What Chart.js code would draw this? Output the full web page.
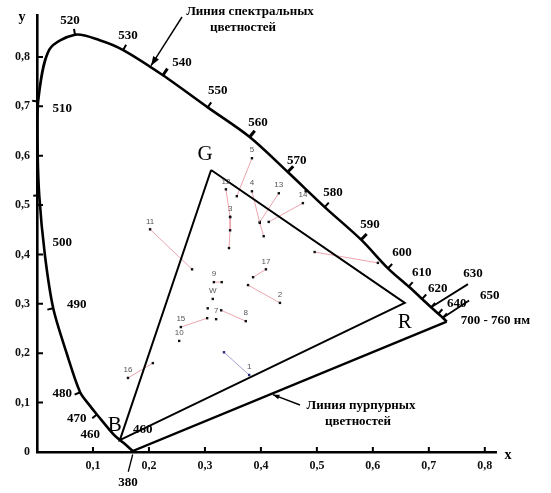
<!DOCTYPE html>
<html>
<head>
<meta charset="utf-8">
<script src="https://cdn.jsdelivr.net/npm/chart.js@4.4.0/dist/chart.umd.min.js"></script>
<style>
  html, body { margin: 0; padding: 0; background: #fff; }
  #wrap { width: 551px; height: 493px; }
</style>
</head>
<body>
<div id="wrap"><canvas id="cie" width="551" height="493"></canvas></div>
<script>
// spectral locus
const waveLengths = [380, 450, 460, 470, 475, 480, 485, 490, 495, 500, 505, 510, 515, 520, 525, 530, 540, 550, 560, 570, 580, 590, 600, 610, 620, 630, 640, 650, 700];
const locusX = [0.171, 0.155, 0.138, 0.107, 0.093, 0.077, 0.053, 0.029, 0.014, 0.004, 0.001, 0.002, 0.022, 0.068, 0.112, 0.154, 0.225, 0.305, 0.380, 0.448, 0.514, 0.579, 0.627, 0.664, 0.688, 0.704, 0.717, 0.725, 0.732];
const locusY = [0.002, 0.018, 0.034, 0.076, 0.096, 0.121, 0.200, 0.291, 0.400, 0.520, 0.620, 0.710, 0.815, 0.845, 0.834, 0.814, 0.763, 0.698, 0.638, 0.567, 0.496, 0.430, 0.372, 0.335, 0.310, 0.293, 0.280, 0.272, 0.264];

// primaries of the triangle
const primaryNames = ["G", "R", "B"];
const primaryX = [0.311, 0.657, 0.148];
const primaryY = [0.571, 0.302, 0.024];

// measured samples (first point of each path carries the number)
const sampleNames = ["1", "2", "3", "4", "5", "7", "8", "9", "10", "11", "12", "13", "14", "15", "16", "17", "W", "", "", ""];
const sampleX = [
  [0.379, 0.334], [0.434, 0.377], [0.345], [0.384, 0.398, 0.405], [0.384, 0.357],
  [0.320], [0.373, 0.329], [0.316, 0.330], [0.254], [0.202, 0.277],
  [0.3375, 0.345, 0.345, 0.343], [0.432, 0.398], [0.475, 0.414], [0.257, 0.304], [0.1625, 0.207],
  [0.409, 0.386], [0.314], [0.305], [0.480], [0.496, 0.609]
];
const sampleY = [
  [0.156, 0.202], [0.302, 0.338], [0.476], [0.528, 0.464, 0.437], [0.595, 0.518],
  [0.269], [0.265, 0.287], [0.344, 0.344], [0.225], [0.451, 0.370],
  [0.532, 0.476, 0.449, 0.413], [0.524, 0.466], [0.504, 0.466], [0.253, 0.271], [0.150, 0.180],
  [0.370, 0.354], [0.310], [0.291], [0.528], [0.405, 0.383]
];

const axisTicks = [0.1, 0.2, 0.3, 0.4, 0.5, 0.6, 0.7, 0.8];

// wavelength captions
const waveLabels = ["520", "530", "540", "550", "560", "570", "580", "590", "600", "610", "620", "630", "640", "650", "510", "500", "490", "480", "470", "460", "460", "380"];
const waveLabelX = [0.059, 0.1625, 0.259, 0.323, 0.395, 0.464, 0.529, 0.595, 0.652, 0.6875, 0.716, 0.779, 0.750, 0.809, 0.045, 0.045, 0.071, 0.045, 0.071, 0.095, 0.189, 0.1625];
const waveLabelY = [0.874, 0.844, 0.789, 0.731, 0.668, 0.591, 0.526, 0.460, 0.403, 0.364, 0.330, 0.362, 0.300, 0.316, 0.696, 0.425, 0.298, 0.119, 0.067, 0.036, 0.045, -0.063];

const serif = '"Liberation Serif", "DejaVu Serif", serif';
const fmt = v => v === 0 ? "0" : v.toFixed(1).replace(".", ",");

const pts = (xs, ys) => xs.map((x, i) => ({ x: x, y: ys[i] }));

const datasets = [];
datasets.push({
  label: "locus",
  data: pts(locusX, locusY),
  showLine: true, borderColor: "#000", borderWidth: 2.6, pointRadius: 0, tension: 0.3
});
datasets.push({
  label: "purple",
  data: [{ x: locusX[0], y: locusY[0] }, { x: locusX[locusX.length - 1], y: locusY[locusY.length - 1] }],
  showLine: true, borderColor: "#000", borderWidth: 2.4, pointRadius: 0
});
datasets.push({
  label: "triangle",
  data: pts(primaryX.concat(primaryX[0]), primaryY.concat(primaryY[0])),
  showLine: true, borderColor: "#000", borderWidth: 2, pointRadius: 0
});
sampleNames.forEach((name, i) => {
  datasets.push({
    label: "s" + i,
    data: pts(sampleX[i], sampleY[i]),
    showLine: true,
    borderColor: name === "1" ? "#ab9fd4" : "#eba5ad",
    borderWidth: 1,
    pointStyle: "rect",
    pointRadius: 1.7,
    pointBackgroundColor: name === "1" ? "#2a2a7a" : "#111",
    pointBorderWidth: 0
  });
});

function arrow(ctx, x1, y1, x2, y2, size) {
  const a = Math.atan2(y2 - y1, x2 - x1);
  ctx.beginPath();
  ctx.moveTo(x1, y1);
  ctx.lineTo(x2, y2);
  ctx.stroke();
  ctx.beginPath();
  ctx.moveTo(x2, y2);
  ctx.lineTo(x2 - size * Math.cos(a - 0.35), y2 - size * Math.sin(a - 0.35));
  ctx.lineTo(x2 - size * Math.cos(a + 0.35), y2 - size * Math.sin(a + 0.35));
  ctx.closePath();
  ctx.fill();
}

const decor = {
  id: "decor",
  afterDatasetsDraw(chart) {
    const ctx = chart.ctx;
    const sx = chart.scales.x, sy = chart.scales.y;
    const px = v => sx.getPixelForValue(v), py = v => sy.getPixelForValue(v);
    ctx.save();
    ctx.strokeStyle = "#000";
    ctx.fillStyle = "#000";

    // inward ticks on axes
    ctx.lineWidth = 2;
    axisTicks.forEach(v => {
      ctx.beginPath();
      ctx.moveTo(px(0), py(v)); ctx.lineTo(px(0) + 6, py(v));
      ctx.moveTo(px(v), py(0)); ctx.lineTo(px(v), py(0) - 5);
      ctx.stroke();
    });

    // ticks on the spectral locus
    const bold = [540, 560, 570, 590];
    for (let i = 1; i < waveLengths.length - 1; i++) {
      const w = waveLengths[i];
      if (w % 10 !== 0 || w < 470) continue;
      const dx = px(locusX[i + 1]) - px(locusX[i - 1]);
      const dy = py(locusY[i + 1]) - py(locusY[i - 1]);
      const len = Math.hypot(dx, dy);
      const nx = dy / len, ny = -dx / len;
      const x0 = px(locusX[i]), y0 = py(locusY[i]);
      const l = bold.includes(w) ? 8 : 6;
      ctx.lineWidth = bold.includes(w) ? 3 : 2;
      ctx.beginPath();
      ctx.moveTo(x0, y0);
      ctx.lineTo(x0 + nx * l, y0 + ny * l);
      ctx.stroke();
    }

    // leaders for 630 and 650
    const i630 = waveLengths.indexOf(630), i650 = waveLengths.indexOf(650);
    ctx.lineWidth = 1.8;
    ctx.beginPath();
    ctx.moveTo(px(locusX[i630]), py(locusY[i630]));
    ctx.lineTo(px(0.770), py(0.340));
    ctx.moveTo(px(locusX[i650]), py(locusY[i650]));
    ctx.lineTo(px(0.772), py(0.307));
    ctx.stroke();
    // 380 leader
    ctx.lineWidth = 1.3;
    ctx.beginPath();
    ctx.moveTo(px(0.163), py(-0.040));
    ctx.lineTo(px(locusX[0]), py(-0.005));
    ctx.stroke();

    // wavelength labels
    ctx.font = "bold 13px " + serif;
    ctx.textAlign = "center";
    ctx.textBaseline = "middle";
    waveLabels.forEach((t, i) => ctx.fillText(t, px(waveLabelX[i]), py(waveLabelY[i])));
    ctx.textAlign = "left";
    ctx.fillText("700 - 760 нм", px(0.757), py(0.267));

    // axis names
    ctx.textAlign = "center";
    ctx.font = "bold 14px " + serif;
    ctx.fillText("y", 22, 17);
    ctx.fillText("x", 508, 455);

    // primaries
    ctx.font = "21px " + serif;
    const primOff = [[-6, -16], [0, 20], [-5, -15]];
    primaryNames.forEach((n, i) => ctx.fillText(n, px(primaryX[i]) + primOff[i][0], py(primaryY[i]) + primOff[i][1]));

    // sample numbers
    ctx.font = "8px Arial, sans-serif";
    ctx.fillStyle = "#555";
    sampleNames.forEach((n, i) => {
      if (!n) return;
      ctx.fillText(n, px(sampleX[i][0]), py(sampleY[i][0]) - 8);
    });

    // annotation: spectral line
    ctx.fillStyle = "#000";
    ctx.font = "bold 13px " + serif;
    ctx.fillText("Линия спектральных", 250, 12);
    ctx.fillText("цветностей", 243, 28);
    const i530 = waveLengths.indexOf(530);
    const f = 0.7;
    const ax = locusX[i530] + f * (locusX[i530 + 1] - locusX[i530]);
    const ay = locusY[i530] + f * (locusY[i530 + 1] - locusY[i530]);
    ctx.lineWidth = 1.4;
    arrow(ctx, 182, 17, px(ax), py(ay) - 2, 10);

    // annotation: purple line
    ctx.fillText("Линия пурпурных", 361, 406);
    ctx.fillText("цветностей", 358, 422);
    const n = locusX.length - 1;
    const g = 0.443;
    const bx = locusX[0] + g * (locusX[n] - locusX[0]);
    const by = locusY[0] + g * (locusY[n] - locusY[0]);
    arrow(ctx, 300, 405, px(bx) + 1, py(by) + 1, 7);

    ctx.restore();
  }
};

new Chart(document.getElementById("cie").getContext("2d"), {
  type: "scatter",
  data: { datasets: datasets },
  options: {
    responsive: false,
    animation: false,
    devicePixelRatio: 1,
    layout: { padding: { left: 0, right: 55, top: 15, bottom: 0 } },
    plugins: { legend: { display: false }, tooltip: { enabled: false } },
    scales: {
      x: {
        type: "linear", min: 0, max: 0.82,
        afterBuildTicks: s => { s.ticks = axisTicks.map(v => ({ value: v })); },
        afterFit: s => { s.height = 41; },
        ticks: {
          callback: v => fmt(v), color: "#111", padding: 7, maxRotation: 0, autoSkip: false,
          font: { family: serif, size: 12, weight: "bold" }
        },
        grid: { drawOnChartArea: false, drawTicks: false },
        border: { color: "#000", width: 2.6 }
      },
      y: {
        type: "linear", min: 0, max: 0.885,
        afterBuildTicks: s => { s.ticks = [0].concat(axisTicks).map(v => ({ value: v })); },
        afterFit: s => { s.width = 37; },
        ticks: {
          callback: v => fmt(v), color: "#111", padding: 7, autoSkip: false,
          font: { family: serif, size: 12, weight: "bold" }
        },
        grid: { drawOnChartArea: false, drawTicks: false },
        border: { color: "#000", width: 2.6 }
      }
    }
  },
  plugins: [decor]
});
</script>
</body>
</html>
